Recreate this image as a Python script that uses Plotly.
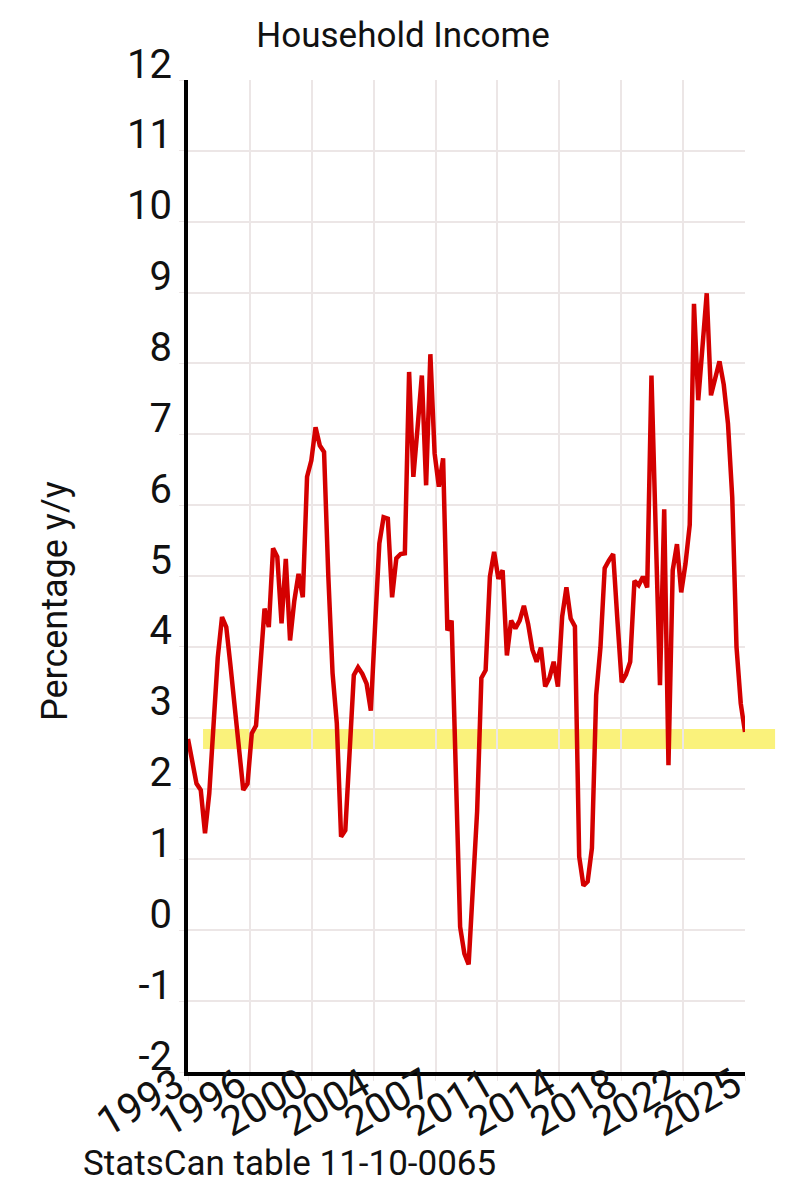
import numpy as np
import plotly.graph_objects as go

# quarterly y/y change in household income
income_yy = [
    2.70, 2.35, 2.07, 1.98, 1.37, 1.93, 3.00, 3.85, 4.42, 4.28,
    3.73, 3.12, 2.51, 1.98, 2.07, 2.78, 2.89, 3.80, 4.54, 4.28,
    5.39, 5.27, 4.33, 5.24, 4.09, 4.65, 5.03, 4.70, 6.40, 6.63,
    7.10, 6.84, 6.75, 5.00, 3.63, 2.92, 1.32, 1.41, 2.50, 3.60,
    3.71, 3.62, 3.48, 3.10, 4.30, 5.46, 5.83, 5.81, 4.70, 5.25,
    5.31, 5.32, 7.88, 6.40, 7.10, 7.83, 6.28, 8.13, 6.73, 6.26,
    6.66, 4.23, 4.37, 2.20, 0.05, -0.33, -0.48, 0.60, 1.68, 3.56,
    3.67, 4.99, 5.34, 4.96, 5.08, 3.88, 4.37, 4.26, 4.37, 4.58,
    4.32, 3.96, 3.79, 3.99, 3.44, 3.56, 3.79, 3.44, 4.43, 4.84,
    4.40, 4.29, 1.04, 0.63, 0.69, 1.16, 3.32, 3.99, 5.11, 5.22,
    5.31, 4.37, 3.50, 3.61, 3.79, 4.93, 4.87, 4.99, 4.84, 7.83,
    5.70, 3.46, 5.94, 2.33, 5.08, 5.45, 4.77, 5.17, 5.72, 8.84,
    7.48, 8.20, 8.99, 7.55, 7.80, 8.03, 7.70, 7.15, 6.11, 4.00,
    3.20, 2.80,
]
quarter_idx = list(range(len(income_yy)))

x_tick_labels = ["1993", "1996", "2000", "2004", "2007", "2011", "2014", "2018", "2022", "2025"]
y_tick_vals = list(range(-2, 13))
y_tick_labels = [str(v) for v in y_tick_vals]  # plain hyphen, not unicode minus

# highlighted band (2.56 - 2.84 %)
band_low = 2.56
band_high = 2.84

FONT = "Roboto"
GRID = "#ece6e6"
INK = "#111111"

# page body has an 8px margin, so margins are shifted to land the plot at 188..745 / 80..1072
fig = go.Figure()
fig.add_trace(go.Scatter(
    x=quarter_idx,
    y=income_yy,
    mode="lines",
    line=dict(color="#d40000", width=4.5),
    showlegend=False,
    hoverinfo="skip",
))

y_lo, y_hi = -2, 12
fig.add_shape(
    type="rect",
    xref="paper", yref="paper",
    x0=0.027, x1=1.054,
    y0=(band_low - y_lo) / (y_hi - y_lo),
    y1=(band_high - y_lo) / (y_hi - y_lo),
    fillcolor="rgba(249,240,100,0.85)",
    line=dict(width=0),
    layer="between",
)

fig.update_layout(
    width=806, height=1200,
    margin=dict(l=180, r=69, t=72, b=136),
    paper_bgcolor="white", plot_bgcolor="white",
    font=dict(family=FONT, color=INK),
    title=dict(
        text="Household Income",
        x=395 / 806, xref="container", xanchor="center",
        y=1 - 27 / 1200, yref="container", yanchor="middle",
        font=dict(size=35, family=FONT, color=INK),
    ),
    xaxis=dict(
        range=[0, len(income_yy) - 1],
        tickvals=list(np.linspace(0, len(income_yy) - 1, len(x_tick_labels))),
        ticktext=x_tick_labels,
        tickangle=-30,
        tickfont=dict(size=41, family=FONT, color=INK),
        ticklabelstandoff=-36,
        ticklabelshift=-11,
        showgrid=True, gridcolor=GRID, gridwidth=2,
        showline=True, linecolor="black", linewidth=4,
        ticks="outside", ticklen=5, tickcolor=GRID,
        zeroline=False, automargin=False,
    ),
    yaxis=dict(
        range=[y_lo, y_hi],
        tickvals=y_tick_vals,
        ticktext=y_tick_labels,
        tickfont=dict(size=40, family=FONT, color=INK),
        ticklabelposition="outside top",
        ticklabelstandoff=4,
        ticklabelshift=12,
        showgrid=True, gridcolor=GRID, gridwidth=2,
        showline=True, linecolor="black", linewidth=4,
        ticks="outside", ticklen=5, tickcolor=GRID,
        zeroline=False, automargin=False,
    ),
    annotations=[
        dict(
            text="Percentage y/y",
            xref="paper", yref="paper",
            x=(55 - 188) / 557, y=(1072 - 601) / 992,
            xanchor="center", yanchor="middle",
            textangle=-90, showarrow=False,
            font=dict(size=36, family=FONT, color=INK),
        ),
        dict(
            text="StatsCan table 11-10-0065",
            xref="paper", yref="paper",
            x=(81 - 188) / 557, y=-(1163 - 1072) / 992,
            xanchor="left", yanchor="middle",
            showarrow=False,
            font=dict(size=35, family=FONT, color=INK),
        ),
    ],
)

fig.write_html("out.html")
